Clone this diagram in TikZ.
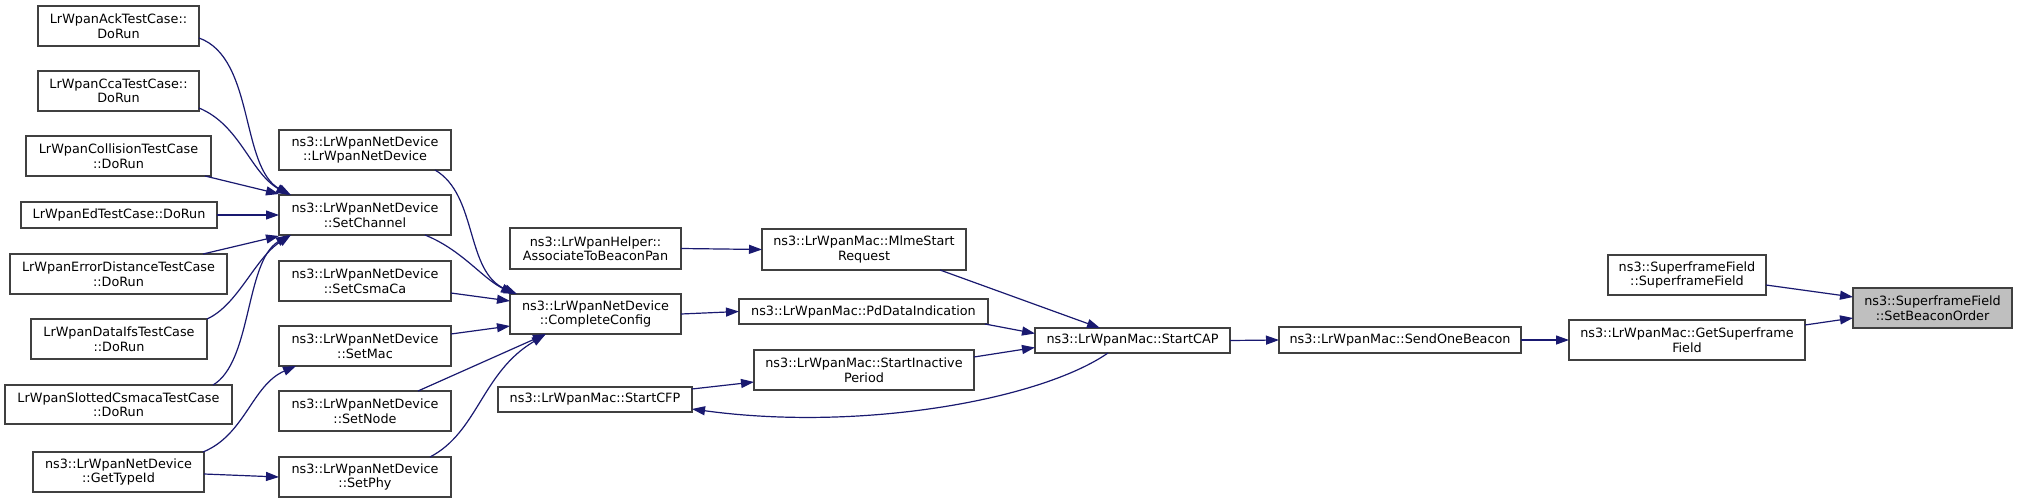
\documentclass[tikz,border=0pt]{standalone}
\usepackage{fontspec}
\setmainfont{DejaVu Sans}
\usetikzlibrary{arrows.meta,calc}
\definecolor{edgec}{HTML}{191970}
\definecolor{boxc}{HTML}{404040}
\definecolor{hlc}{HTML}{BFBFBF}
\newcommand\mkbox[7][]{\node[box,#1,minimum width={(#4-#2)*1pt},minimum height={(#5-#3)*1pt}] (#7) at ({(#2+#4)/2},{(#3+#5)/2}) {#6};}
\begin{document}
\begin{tikzpicture}[x=1pt,y=-1pt,
  box/.style={draw=boxc, line width=1.4pt, fill=white, inner sep=0pt, outer sep=0pt, align=center, font=\fontsize{12.8}{14.5}\selectfont},
  e/.style={draw=edgec, line width=1.2pt, -{Triangle[length=13pt,width=9pt]}}]
\fill[white] (0,0) rectangle (2017,503);
\useasboundingbox (0,0) rectangle (2017,503);

\mkbox{38}{6}{199}{46}{LrWpanAckTestCase::\\DoRun}{ack}
\mkbox{38}{71}{199}{111}{LrWpanCcaTestCase::\\DoRun}{cca}
\mkbox{26}{136}{211}{176}{LrWpanCollisionTestCase\\::DoRun}{coll}
\mkbox{21}{202}{217}{228}{LrWpanEdTestCase::DoRun}{ed}
\mkbox{10}{254}{227}{294}{LrWpanErrorDistanceTestCase\\::DoRun}{errd}
\mkbox{31}{319}{207}{359}{LrWpanDataIfsTestCase\\::DoRun}{dataifs}
\mkbox{5}{385}{232}{424}{LrWpanSlottedCsmacaTestCase\\::DoRun}{slotted}
\mkbox{33}{452}{204}{492}{ns3::LrWpanNetDevice\\::GetTypeId}{gettype}
\mkbox{279}{130}{451}{170}{ns3::LrWpanNetDevice\\::LrWpanNetDevice}{ctor}
\mkbox{279}{195}{451}{235}{ns3::LrWpanNetDevice\\::SetChannel}{setch}
\mkbox{279}{261}{451}{301}{ns3::LrWpanNetDevice\\::SetCsmaCa}{setcsma}
\mkbox{279}{326}{451}{366}{ns3::LrWpanNetDevice\\::SetMac}{setmac}
\mkbox{279}{391}{451}{431}{ns3::LrWpanNetDevice\\::SetNode}{setnode}
\mkbox{279}{457}{451}{497}{ns3::LrWpanNetDevice\\::SetPhy}{setphy}
\mkbox{510}{228}{681}{269}{ns3::LrWpanHelper::\\AssociateToBeaconPan}{assoc}
\mkbox{510}{294}{681}{334}{ns3::LrWpanNetDevice\\::CompleteConfig}{cc}
\mkbox{498}{387}{692}{412}{ns3::LrWpanMac::StartCFP}{cfp}
\mkbox{762}{229}{966}{270}{ns3::LrWpanMac::MlmeStart\\Request}{mlme}
\mkbox{739}{299}{988}{324}{ns3::LrWpanMac::PdDataIndication}{pd}
\mkbox{754}{350}{974}{390}{ns3::LrWpanMac::StartInactive\\Period}{inact}
\mkbox{1035}{328}{1230}{353}{ns3::LrWpanMac::StartCAP}{cap}
\mkbox{1279}{327}{1521}{353}{ns3::LrWpanMac::SendOneBeacon}{send}
\mkbox{1569}{320}{1805}{360}{ns3::LrWpanMac::GetSuperframe\\Field}{getsf}
\mkbox{1608}{255}{1766}{295}{ns3::SuperframeField\\::SuperframeField}{sfctor}
\mkbox[fill=hlc]{1853}{288}{2012}{328}{ns3::SuperframeField\\::SetBeaconOrder}{sbo}

% callers of SetChannel
\draw[e] ($(ack.east)+(0,12)$) .. controls (255,58) and (240,168) .. ($(setch.north west)+(12,0)$);
\draw[e] ($(cca.east)+(0,17)$) .. controls (240,125) and (250,172) .. ($(setch.north west)+(10,0)$);
\draw[e] ($(coll.south east)+(-6,0)$) -- ($(setch.north west)+(0,-1)$);
\draw[e] (ed.east) -- (setch.west);
\draw[e] ($(errd.north east)+(-24,0)$) -- ($(setch.south west)+(0,1)$);
\draw[e] (dataifs.north east) .. controls (238,305) and (255,258) .. ($(setch.south west)+(12,0)$);
\draw[e] ($(slotted.north east)+(-19,0)$) .. controls (252,362) and (245,262) .. ($(setch.south west)+(10,0)$);
% GetTypeId
\draw[e] ($(gettype.north east)+(-1,0)$) .. controls (245,435) and (252,385) .. ($(setmac.south west)+(17,0)$);
\draw[e] ($(gettype.east)+(0,2)$) -- (setphy.west);
% callers of CompleteConfig
\draw[e] ($(ctor.south east)+(-16,0)$) .. controls (478,195) and (465,272) .. ($(cc.north west)+(7,0)$);
\draw[e] ($(setch.south east)+(-26,0)$) .. controls (462,250) and (482,278) .. ($(cc.north west)+(4,0)$);
\draw[e] ($(setcsma.east)+(0,12)$) -- ($(cc.west)+(0,-13)$);
\draw[e] ($(setmac.east)+(0,-12)$) -- ($(cc.west)+(0,12)$);
\draw[e] ($(setnode.north east)+(-33,0)$) -- ($(cc.south west)+(36,0)$);
\draw[e] ($(setphy.north east)+(-21,0)$) .. controls (478,432) and (482,372) .. ($(cc.south west)+(35,1)$);
% middle
\draw[e] (assoc.east) -- (mlme.west);
\draw[e] (cc.east) -- (pd.west);
\draw[e] ($(mlme.south east)+(-26,0)$) -- ($(cap.north west)+(65,0)$);
\draw[e] ($(pd.south east)+(-3,0)$) -- ($(cap.west)+(0,-7)$);
\draw[e] ($(inact.east)+(0,-13)$) -- ($(cap.west)+(0,7)$);
\draw[e] ($(cap.south west)+(73,0)$) .. controls (1040,400) and (860,432) .. ($(cfp.east)+(0,9.5)$);
\draw[e] ($(cfp.north east)+(0,2)$) -- ($(inact.south west)+(0,-8)$);
% right
\draw[e] (cap.east) -- (send.west);
\draw[e] (send.east) -- (getsf.west);
\draw[e] ($(sfctor.east)+(0,10)$) -- ($(sbo.west)+(0,-11)$);
\draw[e] ($(getsf.east)+(0,-15)$) -- ($(sbo.west)+(0,10)$);
\end{tikzpicture}
\end{document}
